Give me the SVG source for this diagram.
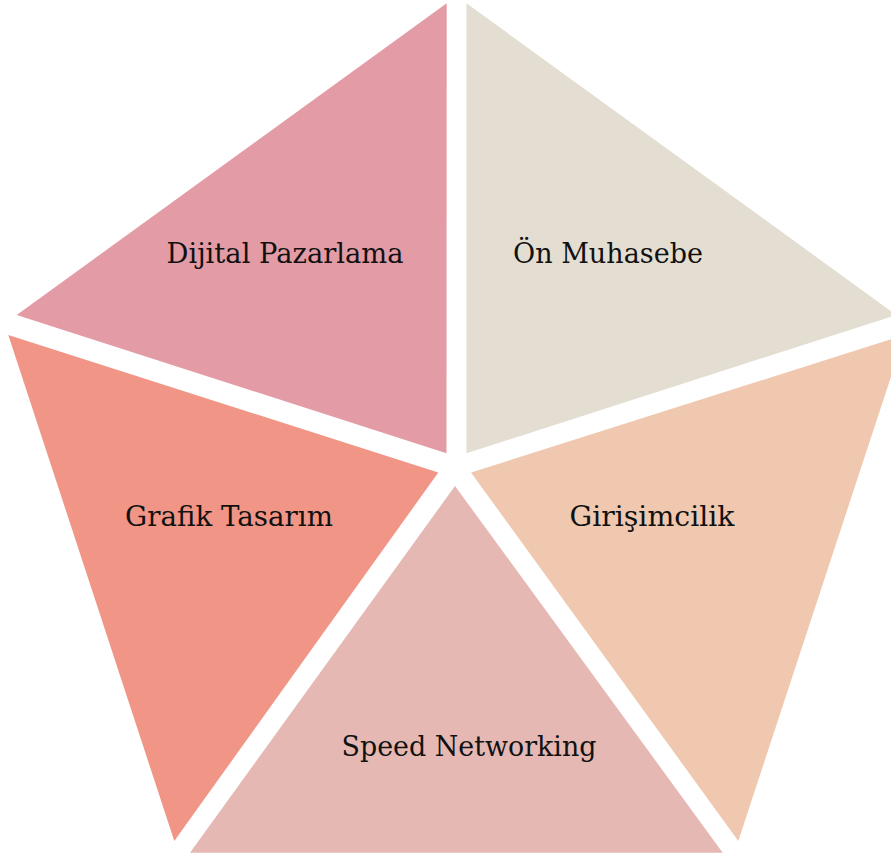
<svg xmlns="http://www.w3.org/2000/svg" width="891" height="859" viewBox="0 0 891 859">
<style>
  .lbl { font-family: "DejaVu Serif", "Liberation Serif", serif; font-size: 27px; fill: #111111; text-anchor: middle; }
</style>
<rect x="0" y="0" width="891" height="859" fill="#FFFFFF"/>
<g id="dijital-pazarlama">
  <polygon points="446.7,3.3 16.7,315 446.5,453.3" fill="#E39BA6"/>
  <text class="lbl" x="285" y="263" textLength="237" lengthAdjust="spacingAndGlyphs">Dijital Pazarlama</text>
</g>
<g id="on-muhasebe">
  <polygon points="466.5,3.3 896.3,315 466.5,453.3" fill="#E4DED2"/>
  <text class="lbl" x="608" y="263" textLength="190" lengthAdjust="spacingAndGlyphs">Ön Muhasebe</text>
</g>
<g id="grafik-tasarim">
  <polygon points="8.3,335 174.3,841 438.3,472.5" fill="#F19586"/>
  <text class="lbl" x="229" y="526" textLength="208" lengthAdjust="spacingAndGlyphs">Grafik Tasarım</text>
</g>
<g id="girisimcilik">
  <polygon points="904.7,335 738.3,841 471,472.5" fill="#EFC8AF"/>
  <text class="lbl" x="652" y="526" textLength="165" lengthAdjust="spacingAndGlyphs">Girişimcilik</text>
</g>
<g id="speed-networking">
  <polygon points="455,486 190,852.7 722.7,852.7" fill="#E5B8B3"/>
  <text class="lbl" x="469" y="756" textLength="255" lengthAdjust="spacingAndGlyphs">Speed Networking</text>
</g>
</svg>
